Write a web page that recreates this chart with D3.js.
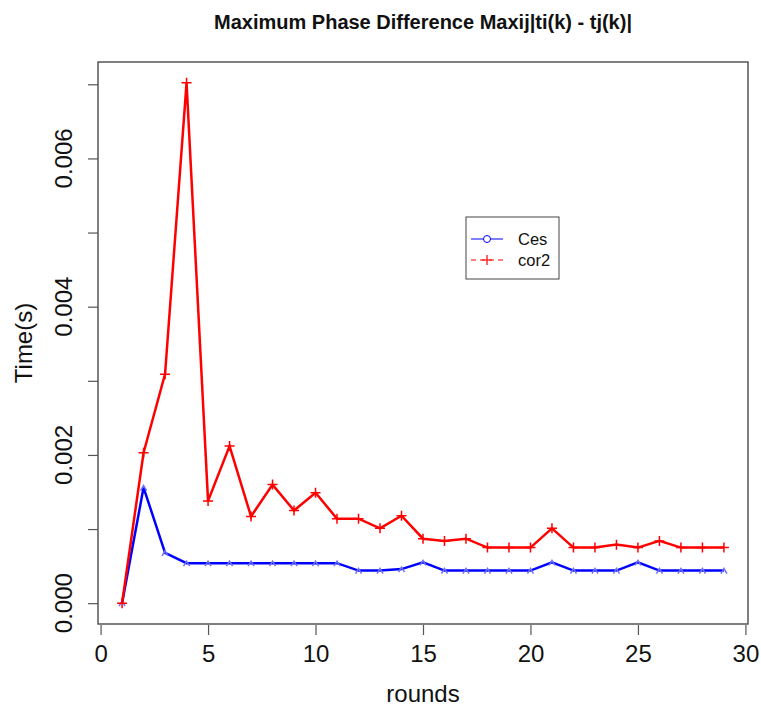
<!DOCTYPE html>
<html>
<head>
<meta charset="utf-8">
<script src="https://cdn.jsdelivr.net/npm/d3@7"></script>
<style>
  body { margin: 0; background: #fff; }
  svg { font-family: 'Liberation Sans', Arial, sans-serif; }
</style>
</head>
<body>
<svg id="chart" width="761" height="709"></svg>
<script>
const rounds = [1, 2, 3, 4, 5, 6, 7, 8, 9, 10, 11, 12, 13, 14, 15, 16, 17, 18, 19, 20, 21, 22, 23, 24, 25, 26, 27, 28, 29];
const ces = [0, 0.00156, 0.00068, 0.00054, 0.00054, 0.00054, 0.00054, 0.00054, 0.00054, 0.00054, 0.00054,
  0.00044, 0.00044, 0.00046, 0.00055, 0.00044, 0.00044, 0.00044, 0.00044, 0.00044, 0.00055,
  0.00044, 0.00044, 0.00044, 0.00055, 0.00044, 0.00044, 0.00044, 0.00044];
const cor2 = [0, 0.00203, 0.00309, 0.00702, 0.00138, 0.00212, 0.00117, 0.0016, 0.00125, 0.00149, 0.00114,
  0.00114, 0.00101, 0.00118, 0.00087, 0.00084, 0.00087, 0.00075, 0.00075, 0.00075, 0.00101,
  0.00075, 0.00075, 0.00079, 0.00075, 0.00084, 0.00075, 0.00075, 0.00075];
const xTicks = [0, 5, 10, 15, 20, 25, 30];
const yTicks = [0, 0.001, 0.002, 0.003, 0.004, 0.005, 0.006, 0.007];
const yLabels = [0, 0.002, 0.004, 0.006];
const seriesNames = ['Ces', 'cor2'];

const box = { left: 98, right: 748, top: 62, bottom: 624 };
const svg = d3.select('#chart');

// R style 4% padding on both axes
const pad = (lo, hi) => [lo - (hi - lo) * 0.04, hi + (hi - lo) * 0.04];
const x = d3.scaleLinear()
  .domain(pad(d3.min(rounds), d3.max(rounds)))
  .range([box.left, box.right]);
const yMax = d3.max(cor2.concat(ces));
const y = d3.scaleLinear()
  .domain(pad(0, yMax))
  .range([box.bottom, box.top]);

const axisColor = '#555';

// plot frame
svg.append('rect')
  .attr('x', box.left).attr('y', box.top)
  .attr('width', box.right - box.left).attr('height', box.bottom - box.top)
  .attr('fill', 'none').attr('stroke', axisColor).attr('stroke-width', 1.5);

// x axis
const xAxis = svg.append('g')
  .attr('transform', `translate(0,${box.bottom + 1})`)
  .call(d3.axisBottom(x).tickValues(xTicks).tickSize(10).tickPadding(10).tickFormat(d3.format('d')));
xAxis.select('.domain').remove();
xAxis.selectAll('line').attr('stroke', axisColor).attr('stroke-width', 1.2);
xAxis.selectAll('text').attr('font-size', 24).attr('fill', '#111')
  .attr('font-family', "'Liberation Sans', Arial, sans-serif");

// y axis (all ticks, labels on every other one)
const yAxis = svg.append('g')
  .attr('transform', `translate(${box.left},0)`)
  .call(d3.axisLeft(y).tickValues(yTicks).tickSize(10).tickFormat(''));
yAxis.select('.domain').remove();
yAxis.selectAll('line').attr('stroke', axisColor).attr('stroke-width', 1.2);

svg.append('g').selectAll('text')
  .data(yLabels)
  .join('text')
  .attr('transform', d => `translate(72,${y(d)}) rotate(-90)`)
  .attr('text-anchor', 'middle')
  .attr('font-size', 24)
  .attr('fill', '#111')
  .text(d => d3.format('.3f')(d));

// titles
svg.append('text')
  .attr('x', (box.left + box.right) / 2)
  .attr('y', 29)
  .attr('text-anchor', 'middle')
  .attr('font-size', 20)
  .attr('font-weight', 'bold')
  .attr('fill', '#111')
  .text('Maximum Phase Difference Maxij|ti(k) - tj(k)|');

svg.append('text')
  .attr('x', (box.left + box.right) / 2)
  .attr('y', 702)
  .attr('text-anchor', 'middle')
  .attr('font-size', 24)
  .attr('fill', '#111')
  .text('rounds');

svg.append('text')
  .attr('transform', `translate(32,${(box.top + box.bottom) / 2}) rotate(-90)`)
  .attr('text-anchor', 'middle')
  .attr('font-size', 24)
  .attr('fill', '#111')
  .text('Time(s)');

// lines
const line = d3.line().x(d => x(d[0])).y(d => y(d[1]));
const cesPts = rounds.map((r, i) => [r, ces[i]]);
const corPts = rounds.map((r, i) => [r, cor2[i]]);

svg.append('path')
  .datum(cesPts)
  .attr('d', line)
  .attr('fill', 'none')
  .attr('stroke', '#0000ff')
  .attr('stroke-width', 2.5);

svg.append('g').selectAll('path')
  .data(cesPts)
  .join('path')
  .attr('d', d => {
    const cx = x(d[0]), cy = y(d[1]);
    return `M${cx - 3},${cy + 3}L${cx},${cy - 2}L${cx + 3},${cy + 3}`;
  })
  .attr('fill', 'none')
  .attr('stroke', '#6f6fff')
  .attr('stroke-width', 1.5);

svg.append('path')
  .datum(corPts)
  .attr('d', line)
  .attr('fill', 'none')
  .attr('stroke', '#ff0000')
  .attr('stroke-width', 2.5);

svg.append('g').selectAll('path')
  .data(corPts)
  .join('path')
  .attr('d', d => {
    const cx = x(d[0]), cy = y(d[1]);
    return `M${cx - 5},${cy}L${cx + 5},${cy}M${cx},${cy - 5}L${cx},${cy + 5}`;
  })
  .attr('stroke', '#ff0000')
  .attr('stroke-width', 1.5);

// legend
const legend = svg.append('g');
legend.append('rect')
  .attr('x', 466).attr('y', 217)
  .attr('width', 93).attr('height', 62)
  .attr('fill', '#fff')
  .attr('stroke', '#444')
  .attr('stroke-width', 1);

const legendRows = legend.selectAll('g')
  .data(seriesNames)
  .join('g')
  .attr('transform', (d, i) => `translate(0,${239 + i * 21})`);

legendRows.append('line')
  .attr('x1', 471).attr('x2', 503)
  .attr('stroke', (d, i) => i === 0 ? '#0000ff' : '#ff0000')
  .attr('stroke-width', 1)
  .attr('stroke-dasharray', (d, i) => i === 0 ? null : '5,4');

legendRows.filter((d, i) => i === 0).append('circle')
  .attr('cx', 487).attr('r', 3.5)
  .attr('fill', '#fff')
  .attr('stroke', '#0000ff')
  .attr('stroke-width', 1);

legendRows.filter((d, i) => i === 1).append('path')
  .attr('d', 'M482,0L492,0M487,-5L487,5')
  .attr('stroke', '#ff0000')
  .attr('stroke-width', 1.2);

legendRows.append('text')
  .attr('x', 518)
  .attr('dy', '0.35em')
  .attr('font-size', 16.5)
  .attr('fill', '#111')
  .text(d => d);
</script>
</body>
</html>
